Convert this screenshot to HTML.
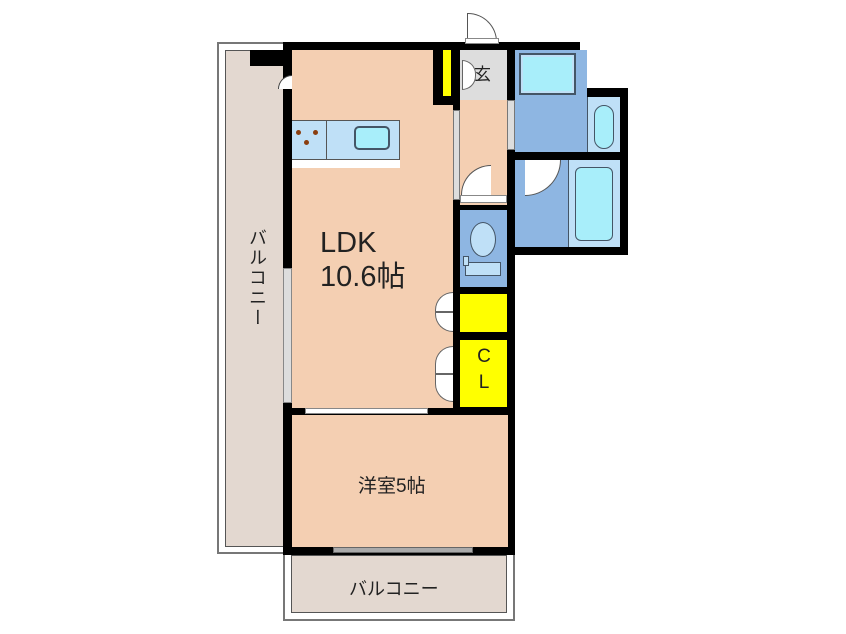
<!DOCTYPE html><html><head><meta charset="utf-8"><style>
body{margin:0;width:846px;height:634px;background:#fff;position:relative;overflow:hidden;font-family:"Liberation Sans","Noto Sans CJK JP",sans-serif}
div{position:absolute;box-sizing:border-box}
.k{background:#000}
.t{color:#222}
</style></head><body>
<div style="left:217px;top:42px;width:75px;height:512px;border:2px solid #777;background:#fff"></div>
<div style="left:225px;top:50px;width:60px;height:497px;border:1px solid #555;background:#e3d8d0"></div>
<div style="left:283px;top:548px;width:232px;height:73px;border:2px solid #777;background:#fff"></div>
<div style="left:291px;top:555px;width:216px;height:58px;border:1px solid #555;background:#e3d8d0"></div>
<div class="k" style="left:283px;top:42px;width:232px;height:513px"></div>
<div class="k" style="left:507px;top:42px;width:73px;height:213px"></div>
<div class="k" style="left:575px;top:88px;width:53px;height:167px"></div>
<div class="k" style="left:250px;top:50px;width:42px;height:16px"></div>
<div style="left:292px;top:50px;width:141px;height:358px;background:#f4cfb2"></div>
<div style="left:433px;top:105px;width:20px;height:303px;background:#f4cfb2"></div>
<div style="left:292px;top:120px;width:108px;height:40px;background:#bfe0f7;border:1px solid #555;border-left:none"></div>
<div style="left:326px;top:120px;width:1px;height:40px;background:#555"></div>
<div style="left:354px;top:126px;width:36px;height:24px;background:#a8eefa;border:2px solid #456;border-radius:5px"></div>
<div style="left:296px;top:130px;width:5px;height:5px;border-radius:50%;background:#8a3e10"></div>
<div style="left:313px;top:130px;width:5px;height:5px;border-radius:50%;background:#8a3e10"></div>
<div style="left:304px;top:140px;width:5px;height:5px;border-radius:50%;background:#8a3e10"></div>
<div style="left:292px;top:160px;width:108px;height:8px;background:#fff"></div>
<div style="left:283px;top:268px;width:9px;height:135px;background:#ddd;border:1px solid #888"></div>
<div style="left:278px;top:75px;width:14px;height:14px;border:1px solid #444;border-radius:14px 0 0 0;border-right:none;border-bottom:none;background:#fff"></div>
<div style="left:443px;top:50px;width:8px;height:46px;background:#ff0"></div>
<div style="left:460px;top:50px;width:47px;height:50px;background:#ddd"></div>
<div style="left:460px;top:100px;width:47px;height:105px;background:#f4cfb2"></div>
<div style="left:453px;top:110px;width:7px;height:90px;background:#ddd;border:1px solid #777"></div>
<div style="left:507px;top:100px;width:8px;height:50px;background:#ddd;border:1px solid #777"></div>
<div style="left:462px;top:60px;width:14px;height:30px;background:#fff;border:1px solid #666;border-radius:0 14px 14px 0"></div>
<div class="t" style="left:474px;top:60px;font-size:17px">玄</div>
<div style="left:467px;top:13px;width:30px;height:29px;background:#fff;border:1.5px solid #555;border-bottom:none;border-radius:0 30px 0 0"></div>
<div style="left:465px;top:38px;width:34px;height:6px;background:#fff;border:1px solid #888"></div>
<div style="left:461px;top:165px;width:30px;height:30px;background:#fff;border:1.5px solid #555;border-right:none;border-bottom:none;border-radius:30px 0 0 0"></div>
<div style="left:460px;top:195px;width:47px;height:8px;background:#fff;border:1px solid #888"></div>
<div style="left:460px;top:210px;width:47px;height:77px;background:#8eb6e2"></div>
<div style="left:470px;top:222px;width:26px;height:35px;background:#bfe0f7;border:1.5px solid #456;border-radius:50%"></div>
<div style="left:465px;top:262px;width:36px;height:14px;background:#bfe0f7;border:1px solid #456"></div>
<div style="left:463px;top:256px;width:6px;height:10px;background:#bfe0f7;border:1px solid #456"></div>
<div style="left:460px;top:294px;width:47px;height:38px;background:#ff0"></div>
<div style="left:460px;top:340px;width:47px;height:67px;background:#ff0"></div>
<div class="t" style="left:474px;top:344px;font-size:19px;line-height:26px;width:20px;text-align:center">C<br>L</div>
<div style="left:435px;top:292px;width:18px;height:20px;background:#fff;border:1px solid #666;border-right:none;border-radius:18px 0 0 0"></div>
<div style="left:435px;top:312px;width:18px;height:20px;background:#fff;border:1px solid #666;border-right:none;border-radius:0 0 0 18px"></div>
<div style="left:435px;top:346px;width:18px;height:28px;background:#fff;border:1px solid #666;border-right:none;border-radius:18px 0 0 0"></div>
<div style="left:435px;top:374px;width:18px;height:28px;background:#fff;border:1px solid #666;border-right:none;border-radius:0 0 0 18px"></div>
<div style="left:515px;top:50px;width:72px;height:102px;background:#8eb6e2"></div>
<div style="left:519px;top:53px;width:57px;height:42px;background:#a8eefa;border:2px solid #456;box-shadow:0 0 0 2px #bfe0f7 inset"></div>
<div style="left:587px;top:97px;width:33px;height:55px;background:#bfe0f7;border-left:1px solid #456"></div>
<div style="left:594px;top:105px;width:20px;height:44px;background:#a8eefa;border:1.5px solid #456;border-radius:10px"></div>
<div style="left:515px;top:160px;width:105px;height:87px;background:#8eb6e2"></div>
<div style="left:568px;top:160px;width:52px;height:87px;background:#bfe0f7;border-left:1px solid #456"></div>
<div style="left:575px;top:167px;width:38px;height:74px;background:#a8eefa;border:1.5px solid #456;border-radius:6px"></div>
<div style="left:525px;top:160px;width:36px;height:36px;background:#fff;border:1.5px solid #555;border-left:none;border-top:none;border-radius:0 0 36px 0"></div>
<div style="left:292px;top:415px;width:216px;height:132px;background:#f4cfb2"></div>
<div style="left:305px;top:408px;width:123px;height:6px;background:#fff;border:1px solid #888"></div>
<div style="left:333px;top:547px;width:140px;height:6px;background:#aaa;border:1px solid #666"></div>
<div class="t" style="left:320px;top:226px;font-size:29px;line-height:34px">LDK<br>10.6帖</div>
<div class="t" style="left:358px;top:471px;font-size:19px">洋室5帖</div>
<div class="t" style="left:349px;top:575px;font-size:18px">バルコニー</div>
<div class="t" style="left:244px;top:228px;font-size:18px;writing-mode:vertical-rl;letter-spacing:2px">バルコニー</div>
</body></html>
